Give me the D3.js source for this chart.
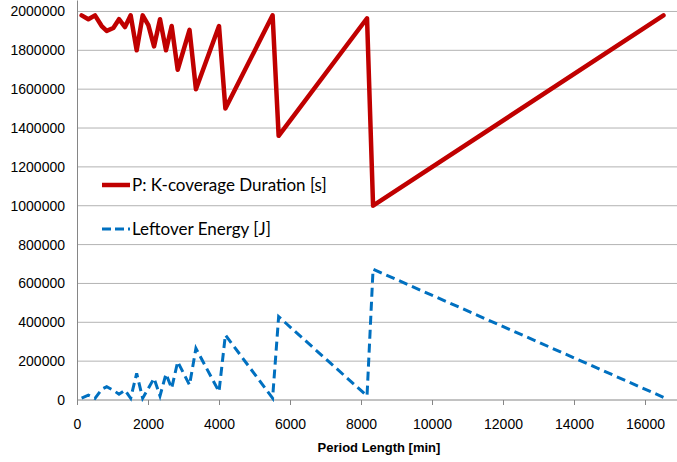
<!DOCTYPE html>
<html>
<head>
<meta charset="utf-8">
<script src="https://cdn.jsdelivr.net/npm/d3@7"></script>
<style>
  body { margin: 0; background: #fff; }
  svg { display: block; font-family: "Lato", "Liberation Sans", sans-serif; }
</style>
</head>
<body>
<svg id="chart" width="677" height="462"></svg>
<script>
// period length [min]
const periods = [130, 320, 507, 695, 836, 1023, 1183, 1352, 1512, 1681, 1850, 2010, 2170,
  2338, 2507, 2667, 2836, 3170, 3350, 4000, 4180, 5510, 5680, 8170, 8340, 16520];
// P: K-coverage duration [s]
const coverage = [1980000, 1960000, 1980000, 1925000, 1900000, 1915000, 1960000, 1920000,
  1980000, 1800000, 1980000, 1930000, 1820000, 1960000, 1800000, 1925000, 1700000, 1905000,
  1600000, 1925000, 1500000, 1980000, 1360000, 1965000, 1000000, 1980000];
// leftover energy [J]
const leftover = [10000, 25000, 8000, 55000, 68000, 50000, 30000, 51000, 9000, 137000, 9000,
  60000, 112000, 21000, 134000, 60000, 197000, 77000, 266000, 43000, 335000, 9000, 429000,
  21000, 673000, 14000];
const xTicks = d3.range(0, 16001, 2000);
const yTicks = d3.range(0, 2000001, 200000);

const svg = d3.select("#chart");
const x = d3.scaleLinear().domain([0, 18000]).range([77, 716]);
const y = d3.scaleLinear().domain([0, 2059000]).range([400, 0]);

// gridlines
svg.append("g")
  .selectAll("line")
  .data(yTicks.filter(d => d > 0))
  .join("line")
  .attr("x1", x(0)).attr("x2", 677)
  .attr("y1", d => y(d)).attr("y2", d => y(d))
  .attr("stroke", "#b3b3b3").attr("stroke-width", 1);

// y axis
const yAxis = svg.append("g")
  .attr("transform", `translate(${x(0)},0)`)
  .call(d3.axisLeft(y).tickValues(yTicks).tickSize(0).tickPadding(12).tickFormat(d3.format("d")));
yAxis.select(".domain").attr("stroke", "#868686");
yAxis.selectAll("text").attr("font-size", 14).attr("fill", "#000")
  .attr("font-family", "Liberation Sans, sans-serif");

// x axis
const xAxis = svg.append("g")
  .attr("transform", `translate(0,${y(0)})`)
  .call(d3.axisBottom(x).tickValues(xTicks).tickSize(5).tickPadding(14).tickFormat(d3.format("d")));
xAxis.select(".domain").attr("stroke", "#868686").attr("d", `M${x(0)},0H677`);
xAxis.selectAll("line").attr("stroke", "#868686");
xAxis.selectAll("text").attr("font-size", 14).attr("fill", "#000")
  .attr("font-family", "Liberation Sans, sans-serif");

svg.append("text")
  .attr("x", 379).attr("y", 452)
  .attr("text-anchor", "middle")
  .attr("font-size", 13).attr("font-weight", "bold")
  .attr("font-family", "Liberation Sans, sans-serif")
  .text("Period Length [min]");

const line = vals => d3.line()
  .x((d, i) => x(periods[i]))
  .y(d => y(d))(vals);

svg.append("path")
  .attr("d", line(leftover))
  .attr("fill", "none")
  .attr("stroke", "#0070c0")
  .attr("stroke-width", 3)
  .attr("stroke-dasharray", "9,5");

svg.append("path")
  .attr("d", line(coverage))
  .attr("fill", "none")
  .attr("stroke", "#c00000")
  .attr("stroke-width", 4.5)
  .attr("stroke-linejoin", "round")
  .attr("stroke-linecap", "round");

// legend
const legend = [
  { label: "P: K-coverage Duration [s]", color: "#c00000", w: 4.5, dash: null, y: 185 },
  { label: "Leftover Energy [J]", color: "#0070c0", w: 3, dash: "9,4", y: 229 }
];
const lg = svg.append("g")
  .selectAll("g")
  .data(legend)
  .join("g")
  .attr("transform", d => `translate(102,${d.y})`);
lg.append("rect")
  .attr("x", -4).attr("y", -14).attr("width", 236).attr("height", 26)
  .attr("fill", "#fff");
lg.append("line")
  .attr("x1", 0).attr("x2", 28)
  .attr("stroke", d => d.color)
  .attr("stroke-width", d => d.w)
  .attr("stroke-dasharray", d => d.dash);
lg.append("text")
  .attr("x", 30).attr("y", 6)
  .attr("font-size", 17)
  .text(d => d.label);
</script>
</body>
</html>
